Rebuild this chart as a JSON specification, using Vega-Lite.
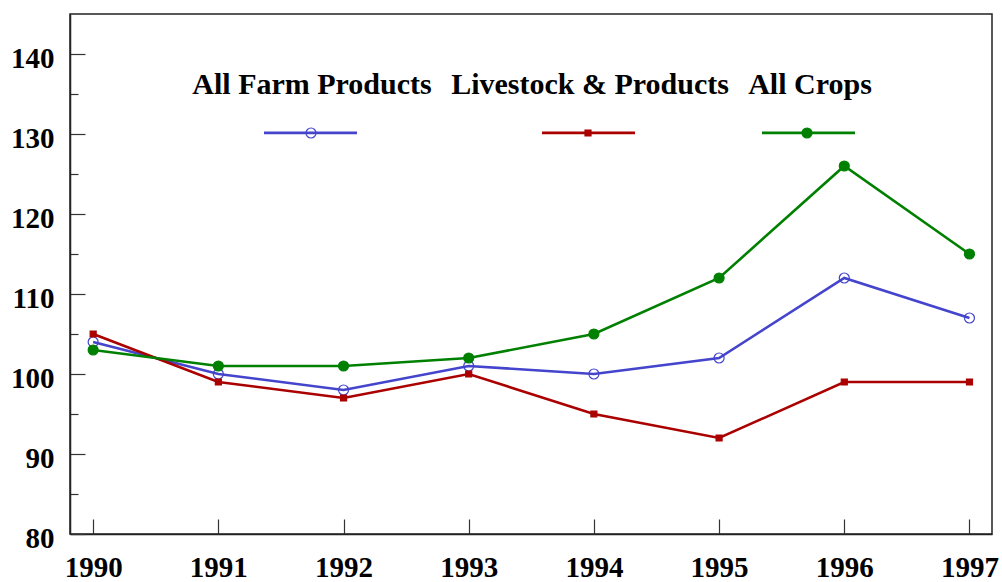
{
  "$schema": "https://vega.github.io/schema/vega-lite/v6.json",
  "width": 922,
  "height": 520,
  "autosize": "none",
  "padding": {"left": 70, "top": 14, "right": 10, "bottom": 48},
  "config": {
    "font": "Liberation Serif",
    "view": {"stroke": "#222222", "strokeWidth": 1.5},
    "axis": {
      "grid": false,
      "title": null,
      "domainColor": "#222222",
      "domainWidth": 1.5,
      "tickColor": "#333333",
      "tickWidth": 1.2,
      "labelFont": "Liberation Serif",
      "labelFontWeight": "bold",
      "labelFontSize": 29,
      "labelColor": "black",
      "labelFlush": false,
      "labelOverlap": false
    }
  },
  "data": {
    "values": [
      {"year": 1990, "series": "All Farm Products", "value": 104},
      {"year": 1991, "series": "All Farm Products", "value": 100},
      {"year": 1992, "series": "All Farm Products", "value": 98},
      {"year": 1993, "series": "All Farm Products", "value": 101},
      {"year": 1994, "series": "All Farm Products", "value": 100},
      {"year": 1995, "series": "All Farm Products", "value": 102},
      {"year": 1996, "series": "All Farm Products", "value": 112},
      {"year": 1997, "series": "All Farm Products", "value": 107},
      {"year": 1990, "series": "Livestock & Products", "value": 105},
      {"year": 1991, "series": "Livestock & Products", "value": 99},
      {"year": 1992, "series": "Livestock & Products", "value": 97},
      {"year": 1993, "series": "Livestock & Products", "value": 100},
      {"year": 1994, "series": "Livestock & Products", "value": 95},
      {"year": 1995, "series": "Livestock & Products", "value": 92},
      {"year": 1996, "series": "Livestock & Products", "value": 99},
      {"year": 1997, "series": "Livestock & Products", "value": 99},
      {"year": 1990, "series": "All Crops", "value": 103},
      {"year": 1991, "series": "All Crops", "value": 101},
      {"year": 1992, "series": "All Crops", "value": 101},
      {"year": 1993, "series": "All Crops", "value": 102},
      {"year": 1994, "series": "All Crops", "value": 105},
      {"year": 1995, "series": "All Crops", "value": 112},
      {"year": 1996, "series": "All Crops", "value": 126},
      {"year": 1997, "series": "All Crops", "value": 115}
    ]
  },
  "encoding": {
    "x": {
      "field": "year",
      "type": "quantitative",
      "scale": {"domain": [1989.815, 1997.18], "nice": false, "zero": false},
      "axis": {
        "values": [1990, 1991, 1992, 1993, 1994, 1995, 1996, 1997],
        "format": "d",
        "tickSize": -15,
        "labelBaseline": "alphabetic",
        "labelPadding": 57
      }
    },
    "y": {
      "field": "value",
      "type": "quantitative",
      "scale": {"domain": [80, 145], "nice": false, "zero": false},
      "axis": {
        "values": [80, 85, 90, 95, 100, 105, 110, 115, 120, 125, 130, 135, 140],
        "labelExpr": "datum.value % 10 === 0 ? datum.label : ''",
        "tickSize": {"condition": {"test": "datum.value % 10 === 0", "value": -15}, "value": -8},
        "labelBaseline": "middle",
        "labelOffset": 4,
        "labelPadding": 31
      }
    }
  },
  "layer": [
    {
      "mark": {"type": "line", "strokeWidth": 2.6},
      "encoding": {
        "color": {
          "field": "series",
          "type": "nominal",
          "scale": {
            "domain": ["All Farm Products", "Livestock & Products", "All Crops"],
            "range": ["#4444cc", "#aa0000", "#008000"]
          },
          "legend": {
            "title": null,
            "orient": "none",
            "direction": "horizontal",
            "legendX": 192.5,
            "legendY": 70.5,
            "symbolType": "stroke",
            "symbolSize": 8649,
            "symbolStrokeWidth": 2.6,
            "labelFont": "Liberation Serif",
            "labelFontWeight": "bold",
            "labelFontSize": 30,
            "labelColor": "black",
            "labelLimit": 400,
            "labelAlign": "center",
            "labelBaseline": "alphabetic",
            "labelOffset": -46.5,
            "columnPadding": 18,
            "encode": {"labels": {"update": {"dy": {"value": -38.5}}}}
          }
        }
      }
    },
    {
      "mark": {"type": "point", "size": 100, "strokeWidth": 1.2, "opacity": 1, "fillOpacity": 1},
      "encoding": {
        "fill": {
          "field": "series",
          "type": "nominal",
          "scale": {
            "domain": ["Livestock & Products", "All Farm Products", "All Crops"],
            "range": ["#aa0000", "transparent", "#008000"]
          },
          "legend": {
            "title": null,
            "orient": "none",
            "direction": "horizontal",
            "legendX": 226,
            "legendY": 104,
            "values": ["All Farm Products", "Livestock & Products", "All Crops"],
            "symbolSize": 100,
            "symbolStrokeWidth": 1.2,
            "labelFont": "Liberation Serif",
            "labelFontWeight": "bold",
            "labelFontSize": 30,
            "labelOpacity": 0,
            "labelLimit": 400,
            "labelAlign": "center",
            "labelOffset": -5,
            "columnPadding": 18
          }
        },
        "stroke": {
          "field": "series",
          "type": "nominal",
          "scale": {
            "domain": ["Livestock & Products", "All Farm Products", "All Crops"],
            "range": ["#aa0000", "#4444cc", "#008000"]
          }
        },
        "shape": {
          "field": "series",
          "type": "nominal",
          "scale": {
            "domain": ["Livestock & Products", "All Farm Products", "All Crops"],
            "range": ["M-0.6,-0.6L0.6,-0.6L0.6,0.6L-0.6,0.6Z", "circle", "circle"]
          }
        }
      }
    }
  ]
}
